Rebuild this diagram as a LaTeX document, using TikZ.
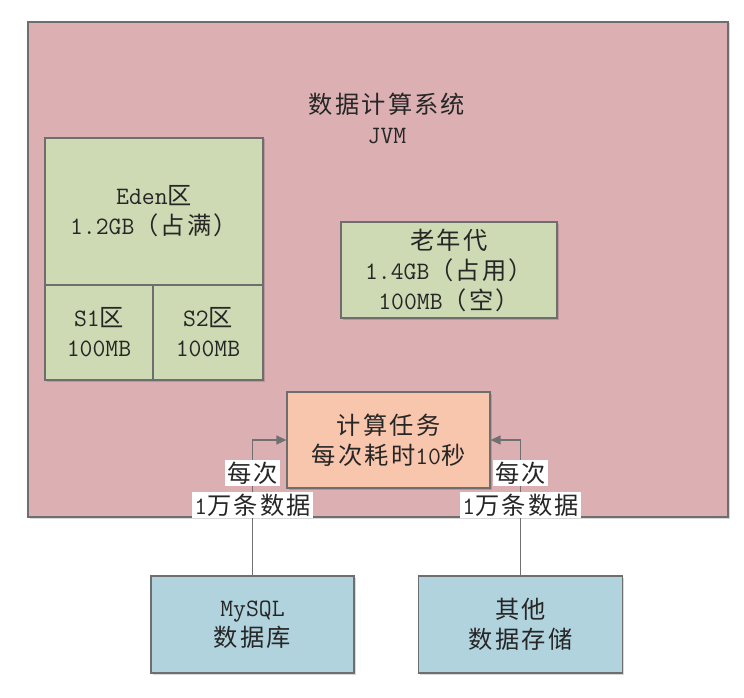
\documentclass[tikz,border=0pt]{standalone}
\usepackage{fontspec}
\newfontfamily\cjk[Scale=0.97,LetterSpace=9]{Noto Sans CJK SC}
\usetikzlibrary{arrows.meta,shadows}
\definecolor{outerfill}{HTML}{DCB0B3}
\definecolor{greenfill}{HTML}{CDDAB3}
\definecolor{taskfill}{HTML}{F8C5AD}
\definecolor{bluefill}{HTML}{B1D3DE}
\definecolor{bordergray}{HTML}{6E6E6E}
\definecolor{linegray}{HTML}{707070}
\definecolor{txt}{HTML}{262626}
\newcommand\zh[1]{{\cjk #1}}
\begin{document}
\begin{tikzpicture}[x=1pt,y=-1pt,
  box/.style={draw=bordergray, line width=1.2pt, inner sep=0pt, align=center, text=txt,
    font=\ttfamily\fontsize{25}{30}\selectfont,
    drop shadow={shadow xshift=1.5pt,shadow yshift=-1.5pt,fill=black,opacity=0.15}},
  conn/.style={draw=linegray, line width=1.3pt, -{Triangle[length=10pt,width=9pt]}},
  lbl/.style={inner sep=0pt, align=center, text=txt, font=\ttfamily\fontsize{25}{32}\selectfont}]
\useasboundingbox (0,0) rectangle (744,698);
\fill[white] (0,0) rectangle (744,698);
\node[box, fill=outerfill, minimum width=700, minimum height=495] (jvm) at (378,269.5) {};
\node[align=center, text=txt, font=\ttfamily\fontsize{25}{30}\selectfont] (title) at (387,118) {\zh{数据计算系统}\\JVM};
\node[box, fill=greenfill, minimum width=218, minimum height=147] (eden) at (154,211.5) {Eden\zh{区}\\1.2GB\zh{（占满）}};
\node[box, fill=greenfill, minimum width=108, minimum height=95] (s1) at (99,332.5) {S1\zh{区}\\100MB};
\node[box, fill=greenfill, minimum width=110, minimum height=95] (s2) at (208,332.5) {S2\zh{区}\\100MB};
\node[box, fill=greenfill, minimum width=216, minimum height=96] (old) at (449,270) {\zh{老年代}\\1.4GB\zh{（占用）}\\100MB\zh{（空）}};
\node[box, fill=taskfill, minimum width=203, minimum height=96] (task) at (388.5,440) {\zh{计算任务}\\\zh{每次耗时}10\zh{秒}};
\node[box, fill=bluefill, minimum width=203, minimum height=97] (mysql) at (252.5,624.5) {MySQL\\\zh{数据库}};
\node[box, fill=bluefill, minimum width=204, minimum height=97] (other) at (520.5,624.5) {\zh{其他}\\\zh{数据存储}};
\draw[conn] (mysql.north) |- (task.west);
\draw[conn] (other.north) |- (task.east);
\setlength{\fboxsep}{2pt}
\node[lbl] (lab1) at (252.5,489) {\colorbox{white}{\zh{每次}}\\\colorbox{white}{1\zh{万条数据}}};
\node[lbl] (lab2) at (520.5,489) {\colorbox{white}{\zh{每次}}\\\colorbox{white}{1\zh{万条数据}}};
\end{tikzpicture}
\end{document}
